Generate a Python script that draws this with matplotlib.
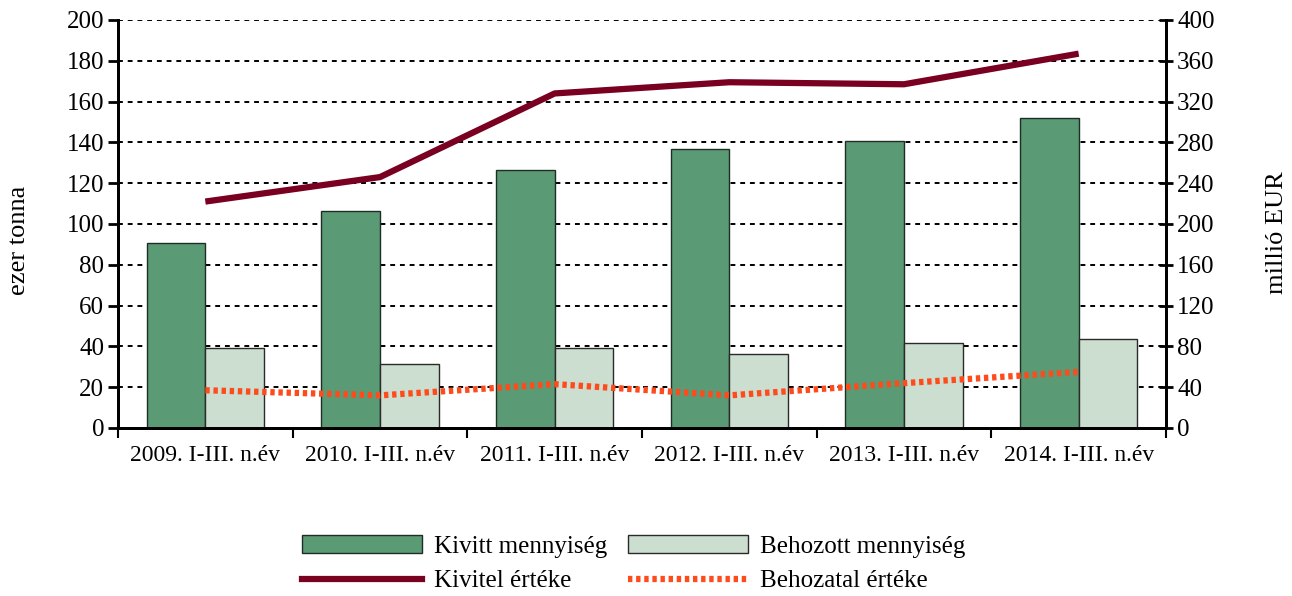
import numpy as np
import matplotlib
matplotlib.use('Agg')
import matplotlib.pyplot as plt
from matplotlib.lines import Line2D
from matplotlib.patches import Patch

categories = ['2009. I-III. n.év', '2010. I-III. n.év', '2011. I-III. n.év',
              '2012. I-III. n.év', '2013. I-III. n.év', '2014. I-III. n.év']
kivitt_menny = [90.7, 106.4, 126.3, 136.6, 140.7, 151.8]
behozott_menny = [39.2, 31.4, 39.4, 36.3, 41.7, 43.6]
kivitel_ertek = [222, 246, 328, 339, 337, 367]
behozatal_ertek = [37, 32, 43, 32, 44, 55]

plt.rcParams['font.family'] = ['Liberation Serif', 'DejaVu Serif']
plt.rcParams['font.size'] = 18

fig = plt.figure(figsize=(12.92, 5.96), dpi=100)
ax = fig.add_axes([118 / 1292, 1 - 428 / 596, (1166 - 118) / 1292, (428 - 20) / 596])
ax2 = ax.twinx()

x = np.arange(len(categories))
w = 0.335
ax.bar(x - w / 2, kivitt_menny, w, color='#5a9a74', edgecolor='#1e2e24', linewidth=1, zorder=2)
ax.bar(x + w / 2, behozott_menny, w, color='#ccdecf', edgecolor='#2a2a2a', linewidth=1, zorder=2)

ax.set_ylim(0, 200)
ax.set_yticks(range(0, 201, 20))
ax.set_xlim(-0.5, len(categories) - 0.5)
ax.set_xticks(x)
ax.set_xticklabels(categories, fontsize=17)
ax.set_xticks(np.arange(-0.5, len(categories), 1), minor=True)
ax.tick_params(axis='x', which='major', length=0, pad=12)
ax.tick_params(axis='x', which='minor', length=7, width=1.5, direction='out')
ax.tick_params(axis='y', length=7, width=2, direction='out', labelsize=18, pad=3)
ax.yaxis.grid(True, color='black', linestyle=(0, (2.5, 2.5)), linewidth=1.4, zorder=0)
ax.set_axisbelow(True)
ax.set_ylabel('ezer tonna', fontsize=19)
ax.yaxis.set_label_coords(-0.084, 0.46)

ax2.plot(x, kivitel_ertek, color='#7a0022', linewidth=4.5, zorder=3, solid_capstyle='butt')
ax2.plot(x, behozatal_ertek, color='#ff4a1c', linewidth=4.5, linestyle=(0, (0.7, 0.6)), zorder=3)
ax2.set_ylim(0, 400)
ax2.set_yticks(range(0, 401, 40))
ax2.tick_params(axis='y', length=10, width=2, direction='inout', labelsize=18, pad=3)
ax2.set_ylabel('millió EUR', fontsize=19)
ax2.yaxis.set_label_coords(1.095, 0.48)

for a in (ax, ax2):
    a.spines['top'].set_visible(False)
    for s in ('left', 'right', 'bottom'):
        a.spines[s].set_linewidth(2)

h_kivitt = Patch(facecolor='#5a9a74', edgecolor='#1e2e24')
h_behozott = Patch(facecolor='#ccdecf', edgecolor='#2a2a2a')
h_kivitel = Line2D([], [], color='#7a0022', linewidth=4.5)
h_behozatal = Line2D([], [], color='#ff4a1c', linewidth=4.5, linestyle=(0, (0.7, 0.6)))
fig.legend([h_kivitt, h_kivitel, h_behozott, h_behozatal],
           ['Kivitt mennyiség', 'Kivitel értéke', 'Behozott mennyiség', 'Behozatal értéke'],
           ncol=2, loc='center', bbox_to_anchor=(0.4905, 0.054), fontsize=18,
           frameon=False, handlelength=4.8, handleheight=0.7, handletextpad=0.5,
           columnspacing=0.8, labelspacing=0.48, borderpad=0)

fig.savefig('out.png', dpi=100)
